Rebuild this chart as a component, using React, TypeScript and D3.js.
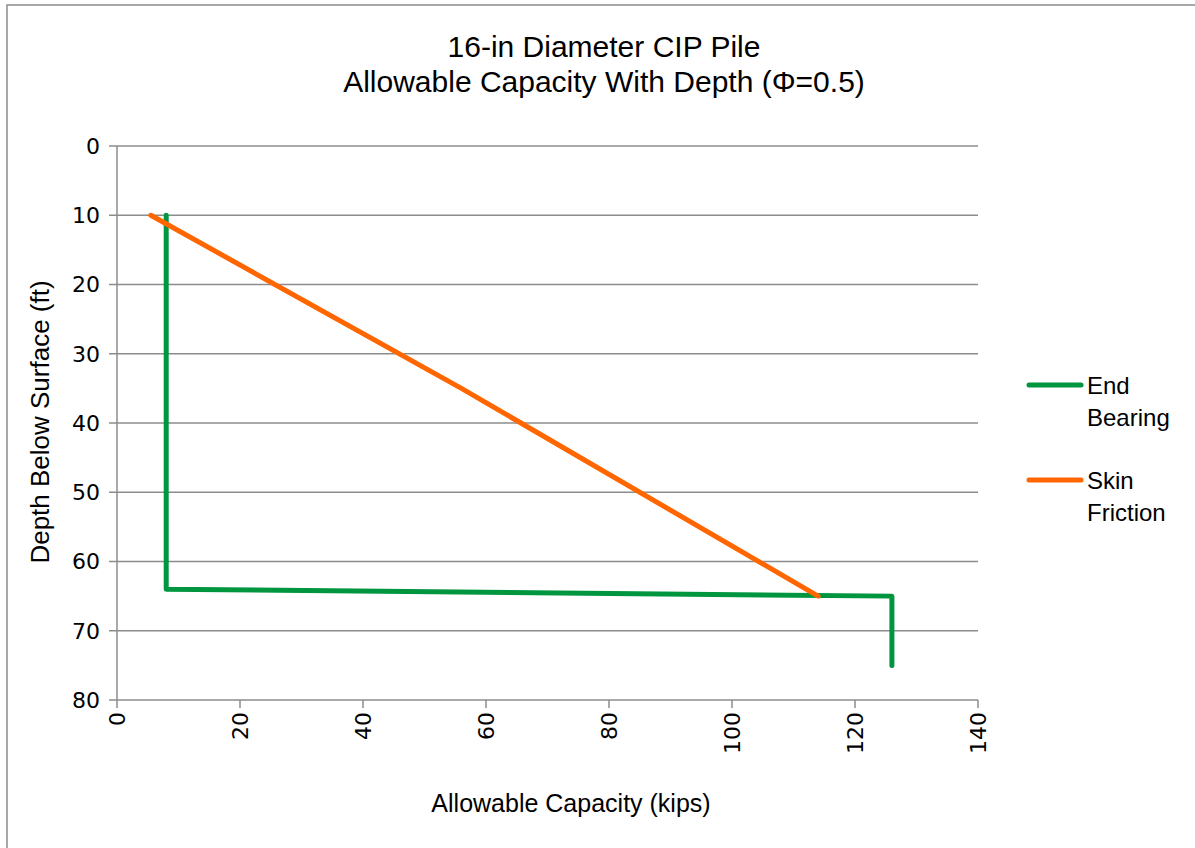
import React from "react";
import * as d3 from "d3";

// End Bearing: capacity (kips) vs depth (ft)
const endBearingCapacity = [8, 8, 126, 126];
const endBearingDepth = [10, 64, 65, 75];

// Skin Friction
const skinFrictionCapacity = [5.5, 56, 114];
const skinFrictionDepth = [10, 35, 65];

const xTicks = [0, 20, 40, 60, 80, 100, 120, 140];
const yTicks = [0, 10, 20, 30, 40, 50, 60, 70, 80];

const titleLines = ["16-in Diameter CIP Pile", "Allowable Capacity With Depth (\u03A6=0.5)"];
const legendItems = [
  { name: ["End", "Bearing"], color: "#00953F" },
  { name: ["Skin", "Friction"], color: "#FF6600" },
];

const FONT = "'Liberation Sans', Arial, sans-serif";
const NUM_FONT = "'DejaVu Sans', sans-serif";

export default function App() {
  const width = 1195;
  const height = 848;
  const margin = { top: 146, left: 117, right: 1195 - 978, bottom: 848 - 700 };

  const x = d3.scaleLinear().domain([0, 140]).range([margin.left, width - margin.right]);
  const y = d3.scaleLinear().domain([0, 80]).range([margin.top, height - margin.bottom]);

  const line = d3
    .line<[number, number]>()
    .x((d) => x(d[0]))
    .y((d) => y(d[1]));

  const endPts = endBearingCapacity.map((c, i) => [c, endBearingDepth[i]] as [number, number]);
  const skinPts = skinFrictionCapacity.map((c, i) => [c, skinFrictionDepth[i]] as [number, number]);

  const grid = "#8C8C8C";

  return (
    <svg
      width={width}
      height={height}
      style={{ position: "absolute", left: 0, top: 0, background: "#fff" }}
      fontFamily={FONT}
    >
      {/* chart border */}
      <rect x={7} y={5} width={1200} height={860} fill="none" stroke={grid} strokeWidth={1.5} />

      {/* title */}
      {titleLines.map((t, i) => (
        <text key={t} x={604} y={57 + i * 35} textAnchor="middle" fontSize={30} fill="#000">
          {t}
        </text>
      ))}

      {/* horizontal gridlines */}
      {yTicks.map((t) => (
        <g key={t}>
          <line x1={x(0) - 8} x2={x(140)} y1={y(t)} y2={y(t)} stroke={grid} strokeWidth={1.5} />
          <text x={x(0) - 17} y={y(t)} dy="0.36em" textAnchor="end" fontSize={22} fontFamily={NUM_FONT} fill="#000">
            {t}
          </text>
        </g>
      ))}

      {/* y axis line */}
      <line x1={x(0)} x2={x(0)} y1={y(0)} y2={y(80)} stroke={grid} strokeWidth={1.5} />

      {/* x ticks */}
      {xTicks.map((t) => (
        <g key={t}>
          <line x1={x(t)} x2={x(t)} y1={y(80)} y2={y(80) + 8} stroke={grid} strokeWidth={1.5} />
          <text
            transform={`translate(${x(t)},${y(80) + 12}) rotate(-90)`}
            dy="0.36em"
            textAnchor="end"
            fontSize={22}
            fontFamily={NUM_FONT}
            fill="#000"
          >
            {t}
          </text>
        </g>
      ))}

      {/* axis titles */}
      <text x={571} y={812} textAnchor="middle" fontSize={25} fill="#000">
        Allowable Capacity (kips)
      </text>
      <text transform={`translate(49,422) rotate(-90)`} textAnchor="middle" fontSize={26} fontWeight={500} fill="#000">
        Depth Below Surface (ft)
      </text>

      {/* series */}
      <path d={line(endPts) ?? ""} fill="none" stroke="#00953F" strokeWidth={5} strokeLinejoin="round" strokeLinecap="round" />
      <path d={line(skinPts) ?? ""} fill="none" stroke="#FF6600" strokeWidth={5} strokeLinejoin="round" strokeLinecap="round" />

      {/* legend */}
      {legendItems.map((item, i) => {
        const ly = 385 + i * 95;
        return (
          <g key={item.color}>
            <line x1={1029} x2={1081} y1={ly} y2={ly} stroke={item.color} strokeWidth={5} strokeLinecap="round" />
            {item.name.map((n, j) => (
              <text key={n} x={1087} y={ly + 9 + j * 32} fontSize={24} fill="#000">
                {n}
              </text>
            ))}
          </g>
        );
      })}
    </svg>
  );
}
